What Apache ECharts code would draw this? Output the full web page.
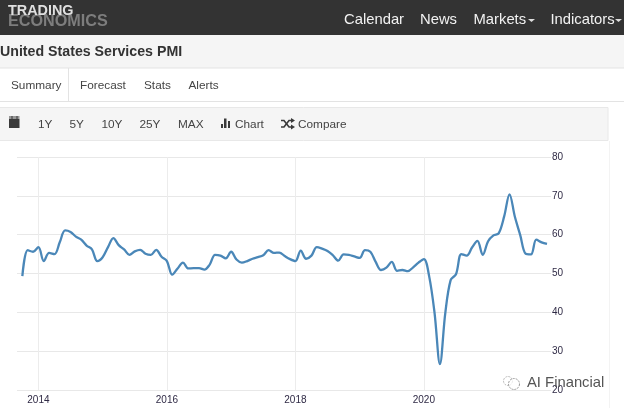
<!DOCTYPE html>
<html><head><meta charset="utf-8">
<style>html,body{margin:0;padding:0;background:#fff}#c{width:624px;height:408px}</style>
<script src="https://cdn.jsdelivr.net/npm/echarts@6/dist/echarts.min.js"></script>
</head><body><div id="c"></div>
<script>
const months = [
'2013-09','2013-10','2013-11','2013-12',
'2014-01','2014-02','2014-03','2014-04','2014-05','2014-06','2014-07','2014-08','2014-09','2014-10','2014-11','2014-12',
'2015-01','2015-02','2015-03','2015-04','2015-05','2015-06','2015-07','2015-08','2015-09','2015-10','2015-11','2015-12',
'2016-01','2016-02','2016-03','2016-04','2016-05','2016-06','2016-07','2016-08','2016-09','2016-10','2016-11','2016-12',
'2017-01','2017-02','2017-03','2017-04','2017-05','2017-06','2017-07','2017-08','2017-09','2017-10','2017-11','2017-12',
'2018-01','2018-02','2018-03','2018-04','2018-05','2018-06','2018-07','2018-08','2018-09','2018-10','2018-11','2018-12',
'2019-01','2019-02','2019-03','2019-04','2019-05','2019-06','2019-07','2019-08','2019-09','2019-10','2019-11','2019-12',
'2020-01','2020-02','2020-03','2020-04','2020-05','2020-06','2020-07','2020-08','2020-09','2020-10','2020-11','2020-12',
'2021-01','2021-02','2021-03','2021-04','2021-05','2021-06','2021-07','2021-08','2021-09','2021-10','2021-11','2021-12'];
const pmi = [
null,49.3,56,55.6,
56.8,53.2,55.3,55,58.1,61.1,60.7,59.5,58.7,57.2,56.2,53.2,
54.2,56.8,59.1,57.3,56.2,54.8,55.7,56.1,55.1,54.8,56.1,54.3,
53.2,49.7,51.3,52.8,51.3,51.4,51.4,51,52.3,54.8,54.6,53.9,
55.6,53.6,52.8,53.2,53.8,54.2,54.7,56,55.3,55.4,54.5,53.7,
53.2,55.9,53.8,54.6,56.8,56.4,55.8,54.7,53.3,54.9,54.8,54.4,
54,56,55.6,53,50.9,51.5,53,50.7,50.9,50.6,51.6,52.8,
53.7,49.2,39.8,26.7,39.8,48.3,49.8,55,54.6,56.7,58.4,54.8,
58.3,59.8,60.4,64.7,70.4,64.6,59.9,55.1,54.9,58.7,58,57.6];
const tickYears = ['2014-01','2016-01','2018-01','2020-01'];
const yMin = 20, yMax = 80, yStep = 10;

const FONT = '"Liberation Sans", Arial, sans-serif';
const txt = (x, y, text, size, fill, weight) => ({type:'text', silent:true, x, y, z:10,
  style:{text, font:(weight||'normal')+' '+size+'px '+FONT, fill, textVerticalAlign:'middle'}});
const rect = (x, y, w, h, fill, stroke) => ({type:'rect', silent:true, z:5,
  shape:{x, y, width:w, height:h}, style:{fill, stroke:stroke||null, lineWidth:1}});
const line = (x1, y1, x2, y2, stroke, w) => ({type:'line', silent:true, z:6,
  shape:{x1, y1, x2, y2}, style:{stroke, lineWidth:w||1}});
const caret = (x, y) => ({type:'polygon', silent:true, z:10,
  shape:{points:[[x,y],[x+7,y],[x+3.5,y+3]]}, style:{fill:'#ddd'}});
const ICON = '#3a3a3a';

const chrome = [
  rect(0,0,624,35,'#333333'),
  rect(0,35,624,33,'#f5f5f5'),
  line(0,68,624,68,'#e3e3e3'),
  line(0,101.5,624,101.5,'#e3e3e3'),
  line(68.5,68,68.5,101,'#e3e3e3'),
  rect(-1,107.5,609,33,'#f5f5f5','#e8e8e8'),
  line(609.5,141,609.5,408,'#f3f3f3'),
  txt(8,22,'ECONOMICS',16.2,'#7d7d7d','bold'),
  txt(8,11,'TRADING',14.4,'#e0e0e0','bold'),
  txt(344,20,'Calendar',14.8,'#f2f2f2'),
  txt(420,20,'News',14.8,'#f2f2f2'),
  txt(473.5,20,'Markets',14.8,'#f2f2f2'), caret(528,19),
  txt(550.5,20,'Indicators',14.8,'#f2f2f2'), caret(615,19),
  txt(0,52.5,'United States Services PMI',14.2,'#333','bold'),
  txt(11,85.5,'Summary',11.8,'#444'),
  txt(80,85.5,'Forecast',11.8,'#444'),
  txt(144,85.5,'Stats',11.8,'#444'),
  txt(188.5,85.5,'Alerts',11.8,'#444'),
  rect(9,118.5,10.5,9.5,ICON), rect(9,116.5,10.5,1,ICON),
  line(12,116,12,119,ICON), line(17,116,17,119,ICON),
  txt(38,124.5,'1Y',11.8,'#444'),
  txt(69.5,124.5,'5Y',11.8,'#444'),
  txt(101.5,124.5,'10Y',11.8,'#444'),
  txt(139.5,124.5,'25Y',11.8,'#444'),
  txt(178,124.5,'MAX',11.8,'#444'),
  rect(221,124,2,4,ICON), rect(224,118.5,2.5,9.5,ICON), rect(228,121,2,7,ICON),
  txt(235,124.5,'Chart',11.8,'#444'),
  {type:'polyline', silent:true, z:10, shape:{points:[[281,120.5],[284,120.5],[289,127],[292,127]]}, style:{stroke:ICON,lineWidth:1.6,fill:null}},
  {type:'polyline', silent:true, z:10, shape:{points:[[281,127],[284,127],[289,120.5],[292,120.5]]}, style:{stroke:ICON,lineWidth:1.6,fill:null}},
  {type:'polygon', silent:true, z:10, shape:{points:[[291,118],[295,120.5],[291,123]]}, style:{fill:ICON}},
  {type:'polygon', silent:true, z:10, shape:{points:[[291,124.5],[295,127],[291,129.5]]}, style:{fill:ICON}},
  txt(298,124.5,'Compare',11.8,'#444'),
  {type:'circle', silent:true, z:10, shape:{cx:508,cy:381,r:4.5}, style:{fill:'none',stroke:'#bbb',lineWidth:1,lineDash:[2,1]}},
  {type:'circle', silent:true, z:10, shape:{cx:514,cy:384,r:5.5}, style:{fill:'rgba(255,255,255,.7)',stroke:'#999',lineWidth:1,lineDash:[2,1]}},
  txt(527,383,'AI Financial',14.8,'#555')
];

const isYearTick = (i, v) => tickYears.includes(v);
const chart = echarts.init(document.getElementById('c'), null, {width:624, height:408});
chart.setOption({
  animation:false,
  backgroundColor:'#fff',
  graphic:chrome,
  grid:{left:17, right:77, top:157, height:233, containLabel:false},
  xAxis:{
    type:'category', data:months, boundaryGap:false,
    axisLine:{show:false},
    axisTick:{show:false},
    axisLabel:{interval:isYearTick, formatter:v=>v.slice(0,4), margin:5, fontSize:10,
      fontFamily:FONT, color:'#2f2a45', hideOverlap:false},
    splitLine:{show:true, interval:isYearTick, lineStyle:{color:'#ececec', width:1}}
  },
  yAxis:{
    type:'value', position:'right', min:yMin, max:yMax, interval:yStep,
    axisLine:{show:false},
    axisTick:{show:true, length:4, lineStyle:{color:'#e8e8e8'}},
    axisLabel:{margin:5, fontSize:10, fontFamily:FONT, color:'#2f2a45'},
    splitLine:{show:true, lineStyle:{color:'#e8e8e8', width:1}}
  },
  series:[{
    type:'line', name:'United States Services PMI', data:pmi, smooth:0.35,
    showSymbol:false, connectNulls:false,
    lineStyle:{color:'#4a87b8', width:2.3}
  }]
});
</script></body></html>
